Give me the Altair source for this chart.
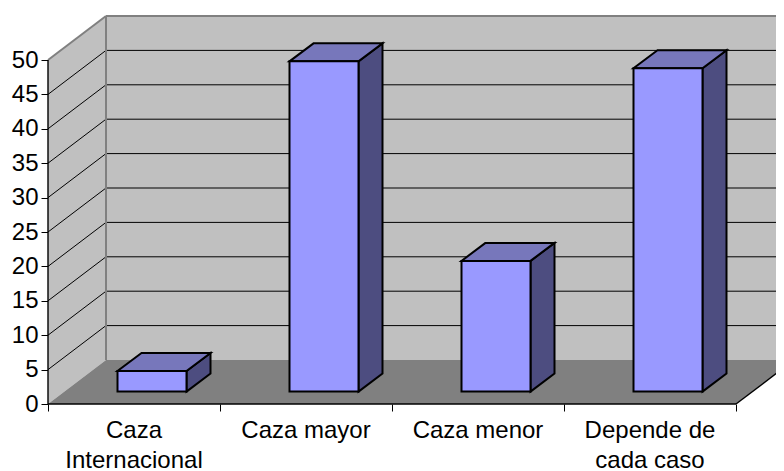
import altair as alt
import pandas as pd

categories = ["Caza\nInternacional", "Caza mayor", "Caza menor", "Depende de\ncada caso"]
values = [3, 48, 19, 47]
y_ticks = [0, 5, 10, 15, 20, 25, 30, 35, 40, 45, 50]
x_ticks = [0, 1, 2, 3, 4]

# depth geometry of the 3D box, in data units
DX, DY = 58 / 172, 44 / 6.88
BW, BDX, BDY = 69 / 172, 24 / 172, 18 / 6.88
INX, INY = (DX - BDX) / 2 + 1 / 172, (DY - BDY) / 2 - 0.6 / 6.88

x_scale = alt.Scale(domain=[(8 - 48) / 172, (776 - 48) / 172], range=[0, 768], nice=False, zero=False)
y_scale = alt.Scale(domain=[(404 - 471) / 6.88, (404 - 8) / 6.88], range=[463, 0], nice=False, zero=False)
X = alt.X("x:Q", scale=x_scale, title=None,
          axis=alt.Axis(values=x_ticks, labels=False, domain=False, grid=False, ticks=True,
                        tickColor="#000000", tickSize=7, tickWidth=1, offset=-67, orient="bottom"))
Y = alt.Y("y:Q", scale=y_scale, title=None,
          axis=alt.Axis(values=y_ticks, domain=False, grid=False, tickColor="#000000", tickSize=7,
                        tickWidth=1, offset=-40, orient="left", labelFont="Liberation Sans",
                        labelFontSize=24, labelColor="#000000", labelPadding=3, format="d"))


def segs(rows, **style):
    return alt.Chart(pd.DataFrame(rows, columns=["x", "x2", "y", "y2"])).mark_rule(clip=True, **style).encode(
        x=X, x2="x2:Q", y=Y, y2="y2:Q")


def vquad(rows, **style):
    # area with vertical parallel edges
    return alt.Chart(pd.DataFrame(rows, columns=["k", "x", "y", "y2"])).mark_area(
        clip=True, orient="vertical", **style).encode(x=X, y=Y, y2="y2:Q", detail="k:N")


def hquad(rows, **style):
    # area with horizontal parallel edges
    return alt.Chart(pd.DataFrame(rows, columns=["k", "x", "x2", "y"])).mark_area(
        clip=True, orient="horizontal", **style).encode(y=Y, x=X, x2="x2:Q", detail="k:N")


back = alt.Chart(pd.DataFrame({"x": [DX], "x2": [5.0], "y": [DY], "y2": [50 + DY]})).mark_rect(
    color="#C0C0C0", clip=True).encode(x=X, x2="x2:Q", y=Y, y2="y2:Q")
left = vquad([(0, 0, 0, 50), (0, DX, DY, 50 + DY)], color="#C0C0C0")
grid_back = segs([(DX, 5.0, v + DY, v + DY) for v in y_ticks[1:-1]], color="#000000", strokeWidth=1)
grid_left = segs([(0, DX, v, v + DY) for v in y_ticks[1:-1]], color="#000000", strokeWidth=1)
border = segs([(DX, 5.0, 50 + DY, 50 + DY), (DX, DX, DY, 50 + DY), (0, DX, 50, 50 + DY)],
              color="#808080", strokeWidth=2)
floor = hquad([(0, 0, 4, 0), (0, DX, 4 + DX, DY)], color="#808080")
edges = segs([(4, 4 + DX, 0, DY), (0, 4, 0, 0), (0, 0, 0, 50)], color="#000000", strokeWidth=1.4)

layers = [back, left, grid_back, grid_left, border, floor, edges]
for i, v in enumerate(values):
    x0 = i + (1 - BW) / 2 + INX
    x1 = x0 + BW
    layers.append(vquad([(i, x1, INY, INY + v), (i, x1 + BDX, INY + BDY, INY + BDY + v)],
                        fill="#4D4D80", stroke="#000000", strokeWidth=2))
    layers.append(hquad([(i, x0, x1, INY + v), (i, x0 + BDX, x1 + BDX, INY + BDY + v)],
                        fill="#7777BB", stroke="#000000", strokeWidth=2))
    layers.append(alt.Chart(pd.DataFrame({"x": [x0], "x2": [x1], "y": [INY], "y2": [INY + v]})).mark_rect(
        fill="#9999FF", stroke="#000000", strokeWidth=2, clip=True).encode(x=X, x2="x2:Q", y=Y, y2="y2:Q"))

labels = alt.Chart(pd.DataFrame({"label": categories, "x": [i + 0.5 for i in range(4)],
                                 "y": [-34 / 6.88] * 4})).mark_text(
    font="Liberation Sans", fontSize=24, color="#000000", align="center", baseline="alphabetic",
    lineBreak="\n", lineHeight=30).encode(x=X, y=Y, text="label:N")
layers.append(labels)

chart = alt.layer(*layers).properties(
    width=768, height=463, padding=0, autosize=alt.AutoSizeParams(type="none"), background="#FFFFFF"
).configure_view(stroke=None)

chart.save("out.html", embed_options={"renderer": "svg", "actions": False})
